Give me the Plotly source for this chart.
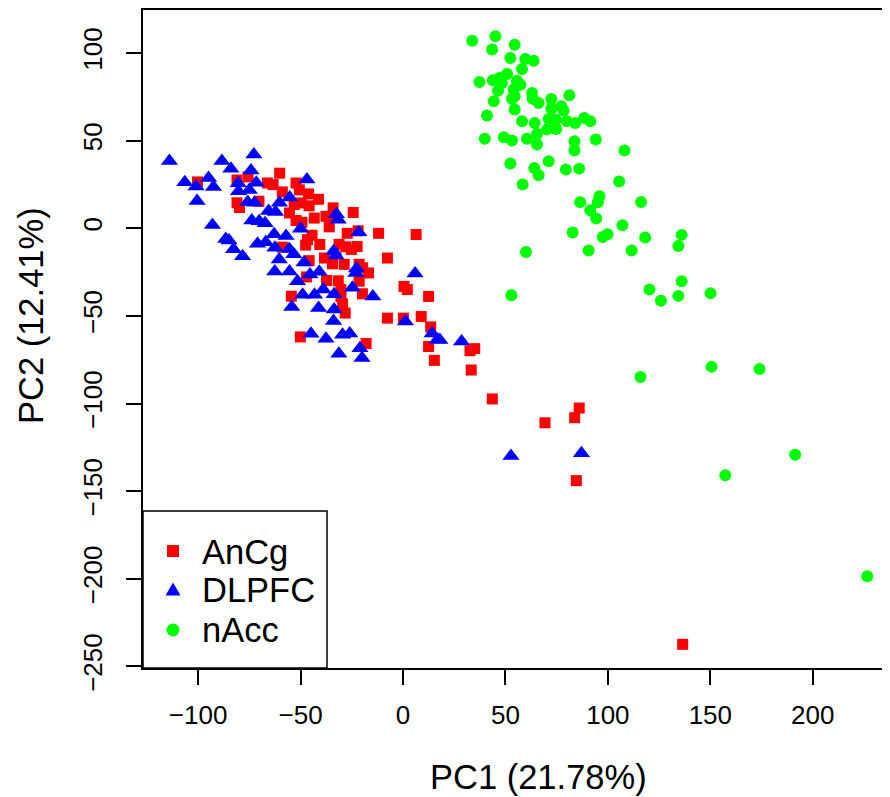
import plotly.graph_objects as go

# ---------------- data ----------------
ancg_x = [-100.3, -81, -75.6, -81, -79.8, -70.3, -66.2, -63.4, -60.2, -58.9, -52.2, -50.6, -46.1, -41.2,
          -53.1, -49.8, -45.8, -55.4, -52.2, -49.3, -43.3, -34.1, -33.6, -37.6, -36, -24.3, -27.2, -21.9,
          -11.9, 6.4, -31.2, -27.9, -22.4, -25.2, -46.6, -44.4, -40.6, -47.5, -58.9, -7.6, -38.3, -34.4,
          -28.7, -21.4, -19.7, -16.8, -45.8, -47.1, -37.3, -31.6, -30.3, -30.3, -21.4, -19.8, -54.5, -29.5,
          -28.2, 0.5, 2.1, 12.5, -7.6, 0.2, 8.9, 13.5, 12.5, 15.3, -50.1, -18, 32.7, 35, 33.3, 43.6, 69.3,
          83.8, 86, 84.6, 136.5]
ancg_y = [26.4, 27.5, 29.3, 14.5, 11.8, 15.4, 25.8, 24.9, 31.4, 20.7, 25.8, 21.9, 19.6, 16.5,
          13.5, 14.4, 12.8, 8.7, 4.4, 3.4, 5.8, 11.6, 6.3, 6.8, 0.8, 9, -2.9, -1.5,
          -2.9, -3.6, -9.2, -10.6, -10.4, -12.1, -6.5, -4, -9.3, -9.6, -10.8, -17, -17, -20.3,
          -20.6, -20.6, -22.6, -25.5, -18.5, -27.8, -29.8, -30, -35, -39, -30.2, -37.4, -38.8, -43.2,
          -48.4, -33.2, -35, -38.9, -51.3, -51.3, -50.4, -56.3, -67.5, -75.4, -62, -65.8, -69.9, -68.7,
          -80.9, -97.4, -111, -108.1, -102.6, -144, -237.4]

dlpfc_x = [-114, -106.5, -101, -100.5, -94.9, -92.5, -93, -88.4, -84, -86.5, -84.9, -82.7, -78.3, -72.8,
           -74.2, -71.6, -80.4, -80.3, -75, -75.8, -72.4, -65.6, -62.2, -60.3, -55.3, -46.9, -73.8, -70.2,
           -67.3, -71, -67, -62.5, -62.9, -57.1, -55.5, -53.3, -60.4, -62.6, -55.4, -45.4, -40.9, -23,
           -51.5, -48.3, -50, -38.9, -24.7, -49, -43.2, -33.6, -14.7, -54.3, -41.2, -33.6, -33.9, 1.2,
           -44.9, -37.6, -29.5, -26, -21, -20, -31.3, -32.7, -33.8, -32.5, -31.6, -21.6, -22.7, 5.9,
           14.2, 16.8, 18, 28.6, 52.7, 87.1]
dlpfc_y = [38.3, 26.2, 23.8, 15.6, 28.6, 23.5, 1.8, 38.4, 34, -6.2, -7, -12, -16, 42.1,
           33, 26, 25.7, 21.1, 21.8, 14.9, 14.5, 9.8, 9.3, 14.6, 17.5, 27.8, 4.4, 4,
           2.8, -8.9, -8, -11.2, -3.4, -4.4, -11.9, -14.8, -17.8, -24.7, -24.7, -26.4, -24.9, -25.5,
           -30.3, -19.6, -0.3, -35, -34, -38, -38, -37.6, -39, -45, -45.5, -46.4, -53, -53.2,
           -60.2, -63, -60.8, -60, -68.5, -74, -71.6, -15.5, -13, 8, 4.9, -2.3, -23, -25.8,
           -60, -63.5, -63.8, -64.6, -129.9, -128.4]

nacc_x = [33.8, 45.1, 43.5, 54.5, 52.4, 59.7, 63.8, 58.1, 37.3, 43.8, 47.1, 50.8, 48.3, 55.6, 57.3, 54,
          46.4, 54.5, 53.2, 44.3, 63, 63.3, 66.2, 72.4, 81.2, 54.5, 41, 58.1, 64.3, 72.4, 77.3, 78.4,
          71.1, 74.6, 80, 84.1, 88.5, 91.4, 70.3, 74.8, 65.4, 65.4, 39.9, 49.2, 53.2, 60.5, 83.7, 83.7,
          94.1, 108.1, 52.4, 64.1, 66.2, 71.1, 79.5, 86, 58.4, 105.5, 86.5, 95.9, 95.1, 91.4, 94.3,
          116.2, 107.1, 82.8, 97.5, 99.8, 118.2, 136, 134.4, 90.6, 111.6, 60, 136, 120.3, 125.9, 134.4,
          52.9, 150.1, 115.9, 150.6, 174, 191.4, 157.3, 226.6]
nacc_y = [107, 109.5, 101.9, 104.7, 97.1, 96.5, 95.6, 90.8, 83.4, 84.4, 85.7, 88, 82.8, 84.2, 81.9, 79.1,
          78.5, 75.3, 73.9, 72.4, 77.1, 73.9, 71.4, 73.7, 75.8, 67.7, 64.3, 61, 60, 68.2, 69.6, 67.1,
          62.3, 62, 61, 60, 62.9, 61, 56.3, 56.6, 53.8, 47.7, 51.1, 51.9, 50, 51.1, 49.6, 44.3,
          50.6, 44.3, 36.9, 34.4, 30.2, 38.2, 33.5, 34, 24.9, 26.6, 14.8, 18.2, 14.8, 10.3, 5.5,
          15, 1.7, -2.5, -5, -3.4, -5.3, -3.8, -10.1, -12.7, -12.7, -13.5, -30.2, -35, -41.4, -38.6,
          -38.2, -37.1, -84.9, -79.1, -80.3, -129.3, -140.9, -198.6]

x_ticks = [-100, -50, 0, 50, 100, 150, 200]
y_ticks = [-250, -200, -150, -100, -50, 0, 50, 100]
x_title = "PC1 (21.78%)"
y_title = "PC2 (12.41%)"
legend_labels = ["AnCg", "DLPFC", "nAcc"]
legend_colors = ["#FF0000", "#0000FF", "#00FF00"]

FONT = "Liberation Sans, Arial, Helvetica, sans-serif"

# page body has an 8px margin: shrink figure so the plot lands where the reference has it
OFF = 8
W, H = 890 - OFF, 797 - OFF
L, T = 143 - OFF, 10 - OFF
PW, PH = 747, 658
B = H - T - PH

def xp(px):  # reference pixel -> paper x
    return (px - 143) / PW

def yp(py):  # reference pixel -> paper y
    return (668 - py) / PH

fig = go.Figure()
fig.add_trace(go.Scatter(x=ancg_x, y=ancg_y, mode="markers", name=legend_labels[0], showlegend=False,
                         marker=dict(symbol="square", size=11, color=legend_colors[0], line=dict(width=0))))
fig.add_trace(go.Scatter(x=dlpfc_x, y=dlpfc_y, mode="markers", name=legend_labels[1], showlegend=False,
                         marker=dict(symbol="triangle-up", size=15, color=legend_colors[1], line=dict(width=0))))
fig.add_trace(go.Scatter(x=nacc_x, y=nacc_y, mode="markers", name=legend_labels[2], showlegend=False,
                         marker=dict(symbol="circle", size=12, color=legend_colors[2], line=dict(width=0))))

# ----- legend drawn like R's legend() -----
key_x = xp(173)
row_y = [551, 589, 630]
shapes = [dict(type="rect", xref="paper", yref="paper", x0=0, x1=xp(327), y0=0, y1=yp(511),
               line=dict(color="black", width=1.5), fillcolor="white", layer="above")]
shapes.append(dict(type="rect", xref="paper", yref="paper", xsizemode="pixel", ysizemode="pixel",
                   xanchor=key_x, yanchor=yp(row_y[0]), x0=-6, x1=6, y0=-6, y1=6,
                   fillcolor=legend_colors[0], line=dict(width=0), layer="above"))
shapes.append(dict(type="path", xref="paper", yref="paper", xsizemode="pixel", ysizemode="pixel",
                   xanchor=key_x, yanchor=yp(row_y[1]), path="M -7.5,-6.5 L 7.5,-6.5 L 0,6.5 Z",
                   fillcolor=legend_colors[1], line=dict(width=0), layer="above"))
shapes.append(dict(type="circle", xref="paper", yref="paper", xsizemode="pixel", ysizemode="pixel",
                   xanchor=key_x, yanchor=yp(row_y[2]), x0=-6.5, x1=6.5, y0=-6.5, y1=6.5,
                   fillcolor=legend_colors[2], line=dict(width=0), layer="above"))

annotations = [
    dict(text=x_title, xref="paper", yref="paper", x=xp(538), y=yp(777),
         xanchor="center", yanchor="middle", showarrow=False, font=dict(size=34.5, family=FONT)),
    dict(text=y_title, xref="paper", yref="paper", x=xp(31), y=yp(316),
         xanchor="center", yanchor="middle", showarrow=False, textangle=-90,
         font=dict(size=34.5, family=FONT)),
]
for lab, ry in zip(legend_labels, [552, 590, 630]):
    annotations.append(dict(text=lab, xref="paper", yref="paper", x=xp(200), y=yp(ry),
                            xanchor="left", yanchor="middle", showarrow=False,
                            font=dict(size=34.5, family=FONT, color="black")))

fig.update_layout(
    width=W, height=H,
    margin=dict(l=L, r=0, t=T, b=B, pad=0),
    plot_bgcolor="white", paper_bgcolor="white",
    font=dict(family=FONT, color="black"),
    showlegend=False,
    shapes=shapes,
    annotations=annotations,
)
fig.update_xaxes(range=[-126.9, 237.7], tickmode="array", tickvals=x_ticks,
                 ticks="outside", ticklen=15, tickwidth=1.5, tickcolor="black",
                 showline=True, linecolor="black", linewidth=1.5, mirror=True,
                 showgrid=False, zeroline=False, ticklabelstandoff=8,
                 tickfont=dict(size=26, family=FONT, color="black"))
fig.update_yaxes(range=[-250.9, 124.5], tickmode="array", tickvals=y_ticks, tickangle=-90,
                 ticks="outside", ticklen=15, tickwidth=1.5, tickcolor="black",
                 showline=True, linecolor="black", linewidth=1.5, mirror=False,
                 showgrid=False, zeroline=False, ticklabelstandoff=14,
                 tickfont=dict(size=26, family=FONT, color="black"))

fig.write_html("out.html")
